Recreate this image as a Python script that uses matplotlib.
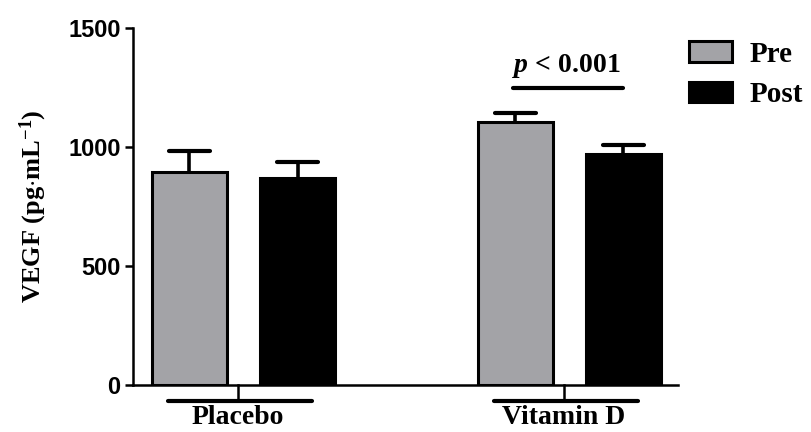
#!/usr/bin/env python3
import numpy as np
import matplotlib.pyplot as plt
from matplotlib.transforms import blended_transform_factory

groups = ["Placebo", "Vitamin D"]
series = ["Pre", "Post"]
pre_mean = [895, 1105]
pre_sem = [88, 38]
post_mean = [870, 971]
post_sem = [67, 37]
p_height = 1248
yticks = [0, 500, 1000, 1500]

SERIF = "Liberation Serif"
SANS = "Liberation Sans"
GREY = "#a3a3a7"

plt.rcParams["mathtext.fontset"] = "custom"
plt.rcParams["mathtext.rm"] = "Liberation Serif:bold"
plt.rcParams["mathtext.it"] = "Liberation Serif:italic:bold"
plt.rcParams["mathtext.bf"] = "Liberation Serif:bold"

fig = plt.figure(figsize=(8.12, 4.32), dpi=100)
ax = fig.add_axes([0.1638, 0.1088, 0.835 - 0.1638, 0.935 - 0.1088])

x = np.arange(len(groups))
off = 0.166
w = 0.23
cap = 0.063


def draw_bars(xpos, means, sems, color, label):
    ax.bar(xpos, means, width=w, color=color, edgecolor="black", linewidth=2.2,
           label=label, zorder=2)
    for xi, m, s in zip(xpos, means, sems):
        ax.plot([xi, xi], [m, m + s], color="black", lw=2.6, zorder=3)
        ax.plot([xi - cap, xi + cap], [m + s, m + s], color="black", lw=3,
                solid_capstyle="round", zorder=3)


draw_bars(x - off, pre_mean, pre_sem, GREY, series[0])
draw_bars(x + off, post_mean, post_sem, "black", series[1])

ax.set_xlim(-0.339, 1.334)
ax.set_ylim(0, 1500)
ax.set_yticks(yticks)
ax.set_yticklabels([str(t) for t in yticks], fontfamily=SANS, fontweight="bold", fontsize=17)
ax.tick_params(axis="y", length=6, width=1.8, pad=3)
ax.set_xticks([])
for s in ["top", "right"]:
    ax.spines[s].set_visible(False)
ax.spines["left"].set_linewidth(1.8)
ax.spines["bottom"].set_linewidth(1.8)

ax.set_ylabel(r"VEGF (pg$\cdot$mL$^{-1}$)", fontfamily=SERIF, fontweight="bold",
              fontsize=19, labelpad=14)

# group brackets under the axis
tr = blended_transform_factory(ax.transData, ax.transAxes)
for gx, name in zip(x, groups):
    ax.plot([gx - 0.232, gx + 0.21], [-0.044, -0.044], color="black", lw=3,
            solid_capstyle="round", transform=tr, clip_on=False)
    ax.plot([gx - 0.017, gx - 0.017], [-0.044, 0], color="black", lw=1.8,
            transform=tr, clip_on=False)
    ax.text(gx - 0.017, -0.108, name, transform=tr, ha="center", va="baseline",
            fontfamily=SERIF, fontweight="bold", fontsize=20)

# significance line
ax.plot([1 - 0.173, 1 + 0.165], [p_height, p_height], color="black", lw=3,
        solid_capstyle="round", clip_on=False)
ax.text(1 - 0.01, p_height + 35, r"$p$ < 0.001", ha="center", va="bottom",
        fontfamily=SERIF, fontweight="bold", fontsize=20)

leg = ax.legend(loc="upper left", bbox_to_anchor=(0.849, 0.905), bbox_transform=fig.transFigure,
                frameon=False, prop={"family": SERIF, "weight": "bold", "size": 21},
                handlelength=1.45, handleheight=0.72, handletextpad=0.6, labelspacing=0.45,
                borderpad=0, borderaxespad=0)

fig.savefig("out.png", dpi=100)
